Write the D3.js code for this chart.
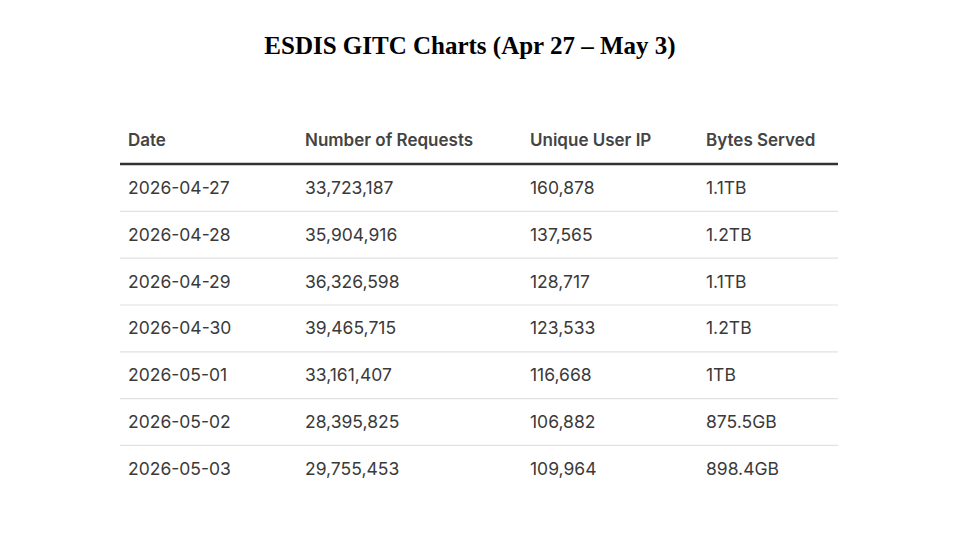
<!DOCTYPE html><html><head><meta charset="utf-8"><script src="https://cdn.jsdelivr.net/npm/d3@7"></script>
<style>body{margin:0;background:#fff}</style></head><body><svg id="c" width="972" height="547"></svg>
<script>
const columns=["Date","Number of Requests","Unique User IP","Bytes Served"];
const dates=["2026-04-27","2026-04-28","2026-04-29","2026-04-30","2026-05-01","2026-05-02","2026-05-03"];
const requests=[33723187,35904916,36326598,39465715,33161407,28395825,29755453];
const uniqueIPs=[160878,137565,128717,123533,116668,106882,109964];
const bytesServed=["1.1TB","1.2TB","1.1TB","1.2TB","1TB","875.5GB","898.4GB"];
const svg=d3.select("#c");
svg.append("text").attr("x",470).attr("y",54).attr("text-anchor","middle")
 .attr("font-family","Liberation Serif").attr("font-weight","bold").attr("font-size",25).attr("fill","#000")
 .text("ESDIS GITC Charts (Apr 27 – May 3)");
const fmt=d3.format(",");
const rows=dates.map((d,i)=>[d,fmt(requests[i]),fmt(uniqueIPs[i]),bytesServed[i]]);
const x=d3.scaleOrdinal().domain(d3.range(4)).range([128,305,530,706]);
const y=d3.scaleLinear().domain([0,1]).range([188,234.8]);
const g=svg.append("g").attr("font-family","Inter").attr("fill","#333");
g.selectAll(".h").data(columns).join("text").attr("x",(d,i)=>x(i)).attr("y",146)
 .attr("font-size",17).attr("font-weight",600).attr("fill","#444").text(d=>d);
g.append("line").attr("x1",120).attr("x2",838).attr("y1",164).attr("y2",164).attr("stroke","#333").attr("stroke-width",2.5);
rows.forEach((r,i)=>{
 g.selectAll(null).data(r).join("text").attr("x",(d,j)=>x(j)).attr("y",y(i)+6)
  .attr("font-size",17.5).attr("fill","#3a3a3a").text(d=>d);
 if(i<rows.length-1) g.append("line").attr("x1",120).attr("x2",838).attr("y1",y(i+0.5)).attr("y2",y(i+0.5)).attr("stroke","#e2e2e6").attr("stroke-width",1.2);
});
</script></body></html>
